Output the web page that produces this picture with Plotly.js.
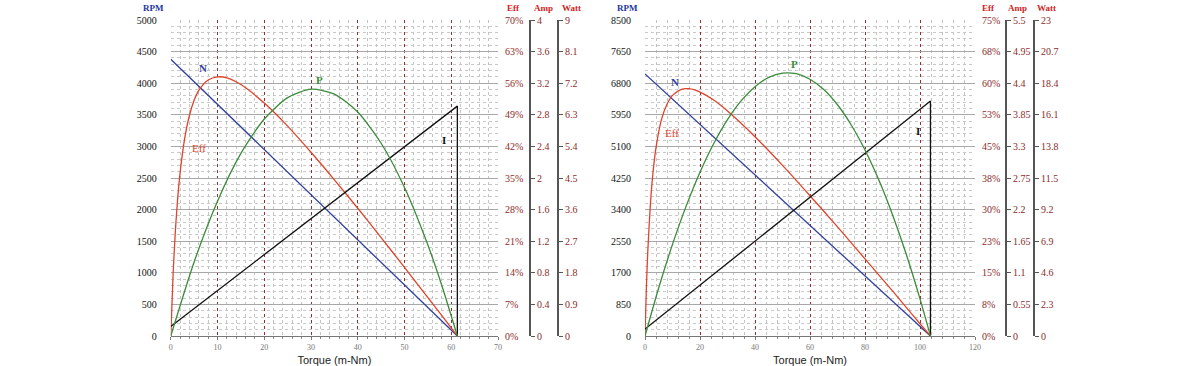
<!DOCTYPE html>
<html>
<head>
<meta charset="utf-8">
<script src="https://cdn.plot.ly/plotly-3.0.1.min.js"></script>
<style>html,body{margin:0;padding:0;background:#fff;}#chart{width:1200px;height:366px;}</style>
</head>
<body>
<div id="chart"></div>
<script>
// ---- Left motor ----
var leftNTorque = [0, 61.3];
var leftN = [4380, 0];
var leftITorque = [0, 61.3, 61.3];
var leftI = [0.12, 2.91, 0];
var leftEffTorque = [0,0.5,1,1.5,2,3,4,5,6,8,10,12,15,20,25,30,35,40,45,50,55,58,61.3];
var leftEff = [0,13.7,23.5,30.7,36.2,43.9,48.9,52.2,54.4,56.7,57.4,57.2,55.7,51.6,46.5,40.7,34.6,28.3,21.8,15.2,8.5,4.5,0];
var leftPTorque = [0,5,10,15,20,25,30,35,40,45,50,55,58,61.3];
var leftP = [0,2.11,3.84,5.20,6.18,6.79,7.03,6.89,6.38,5.49,4.23,2.59,1.43,0];
var leftEffTicks = [0,7,14,21,28,35,42,49,56,63,70];
var leftEffLabels = ["0%","7%","14%","21%","28%","35%","42%","49%","56%","63%","70%"];
var leftAmpTicks = [0,0.4,0.8,1.2,1.6,2,2.4,2.8,3.2,3.6,4];
var leftAmpLabels = ["0","0.4","0.8","1.2","1.6","2","2.4","2.8","3.2","3.6","4"];
var leftWattTicks = [0,0.9,1.8,2.7,3.6,4.5,5.4,6.3,7.2,8.1,9];
var leftWattLabels = ["0","0.9","1.8","2.7","3.6","4.5","5.4","6.3","7.2","8.1","9"];

// ---- Right motor ----
var rightNTorque = [0, 103.8];
var rightN = [7050, 0];
var rightITorque = [0, 103.8, 103.8];
var rightI = [0.12, 4.09, 0];
var rightEffTorque = [0,0.5,1,2,3,4,6,8,10,13,16,20,25,30,40,50,60,70,80,90,95,100,103.8];
var rightEff = [0,11.4,19.9,31.7,39.4,44.7,51.4,55.0,57.1,58.5,58.7,57.9,56.0,53.4,47.3,40.5,33.3,25.9,18.3,10.7,6.8,2.9,0];
var rightPTorque = [0,5,10,15,20,25,30,35,40,45,50,55,60,65,70,75,80,85,90,95,100,103.8];
var rightP = [0,3.51,6.67,9.47,11.92,14.01,15.75,17.13,18.15,18.82,19.13,19.09,18.69,17.94,16.83,15.36,13.54,11.37,8.83,5.95,2.70,0];
var rightEffTicks = [0,7.5,15,22.5,30,37.5,45,52.5,60,67.5,75];
var rightEffLabels = ["0%","8%","15%","23%","30%","38%","45%","53%","60%","68%","75%"];
var rightAmpTicks = [0,0.55,1.1,1.65,2.2,2.75,3.3,3.85,4.4,4.95,5.5];
var rightAmpLabels = ["0","0.55","1.1","1.65","2.2","2.75","3.3","3.85","4.4","4.95","5.5"];
var rightWattTicks = [0,2.3,4.6,6.9,9.2,11.5,13.8,16.1,18.4,20.7,23];
var rightWattLabels = ["0","2.3","4.6","6.9","9.2","11.5","13.8","16.1","18.4","20.7","23"];

var xTitle = "Torque (m-Nm)";

var cN = "#2f3f9e", cE = "#e0432b", cP = "#3a8c3a", cI = "#111111";
var serif = "Liberation Serif";
var lblColor = "#8e2a2a";

function tr(x, y, xa, ya, color, smooth) {
  var t = {x: x, y: y, xaxis: xa, yaxis: ya, type: "scatter", mode: "lines",
    line: {color: color, width: 1.3}, hoverinfo: "skip", showlegend: false};
  if (smooth) { t.line.shape = "spline"; t.line.smoothing = 0.7; }
  return t;
}

var data = [
  tr(leftNTorque, leftN, "x", "y", cN),
  tr(leftEffTorque, leftEff, "x", "y2", cE, true),
  tr(leftITorque, leftI, "x", "y3", cI),
  tr(leftPTorque, leftP, "x", "y4", cP, true),
  tr(rightNTorque, rightN, "x2", "y5", cN),
  tr(rightEffTorque, rightEff, "x2", "y6", cE, true),
  tr(rightITorque, rightI, "x2", "y7", cI),
  tr(rightPTorque, rightP, "x2", "y8", cP, true)
];

function minorVals(max, step, major) {
  var v = [];
  for (var i = 1; i * step < max; i++) { if (i % major !== 0) v.push(i * step); }
  return v;
}

function xax(domain, range, dtick, minor, anchor) {
  return {domain: domain, range: range, dtick: dtick, anchor: anchor,
    showgrid: true, gridcolor: "#9a2c2c", gridwidth: 1, griddash: "dot", zeroline: false,
    showline: true, linecolor: "#777", linewidth: 1, ticks: "outside", ticklen: 3, tickcolor: "#777",
    minor: {tickmode: "array", tickvals: minorVals(range[1], minor, dtick / minor), showgrid: true,
      gridcolor: "#c4c4c4", griddash: "dot", gridwidth: 1, ticks: "outside", ticklen: 2, tickcolor: "#888"},
    tickfont: {family: serif, size: 8, color: "#777"},
    title: {text: xTitle, font: {family: "Liberation Sans", size: 11, color: "#222"}, standoff: 5},
    automargin: false, fixedrange: true};
}
function yRpm(xa, range, dtick, minor) {
  return {anchor: xa, range: range, dtick: dtick, showgrid: true, gridcolor: "#a8a8a8", gridwidth: 1,
    zeroline: false, showline: false, ticks: "outside", ticklen: 11, tickcolor: "rgba(0,0,0,0)",
    minor: {tickmode: "array", tickvals: minorVals(range[1], minor, dtick / minor), showgrid: true,
      gridcolor: "#c8c8c8", griddash: "dot", gridwidth: 1},
    tickfont: {family: serif, size: 10, color: "#111"}, automargin: false, fixedrange: true};
}
function yEff(xa, over, tv, tt) {
  return {anchor: xa, overlaying: over, side: "right", range: [0, tv[tv.length-1]], tickvals: tv, ticktext: tt,
    showgrid: false, zeroline: false, showline: false, ticks: "outside", ticklen: 4, tickcolor: "rgba(0,0,0,0)",
    tickfont: {family: serif, size: 10, color: lblColor}, automargin: false, fixedrange: true};
}
function yFree(over, pos, tv, tt) {
  return {anchor: "free", overlaying: over, side: "right", position: pos, range: [0, tv[tv.length-1]],
    tickvals: tv, ticktext: tt, showgrid: false, zeroline: false, showline: true, linecolor: "#555", linewidth: 2,
    ticks: "outside", ticklen: 4, tickcolor: "#555", tickwidth: 1,
    tickfont: {family: serif, size: 10, color: lblColor}, automargin: false, fixedrange: true};
}

var headY = (336 - 8) / 316;
function ann(text, x, y, xref, yref, color, size, bold) {
  return {text: bold ? "<b>" + text + "</b>" : text, x: x, y: y, xref: xref, yref: yref, showarrow: false,
    xanchor: "center", yanchor: "middle", font: {family: serif, size: size, color: color}};
}

var layout = {
  width: 1200, height: 366,
  margin: {l: 0, r: 0, t: 20, b: 30},
  paper_bgcolor: "#fff", plot_bgcolor: "#fff",
  showlegend: false,
  xaxis: xax([0.1423, 0.415], [0, 70], 10, 2, "y"),
  xaxis2: xax([0.5375, 0.8125], [0, 120], 20, 4, "y5"),
  yaxis: yRpm("x", [0, 5000], 500, 100),
  yaxis2: yEff("x", "y", leftEffTicks, leftEffLabels),
  yaxis3: yFree("y", 0.4417, leftAmpTicks, leftAmpLabels),
  yaxis4: yFree("y", 0.465, leftWattTicks, leftWattLabels),
  yaxis5: yRpm("x2", [0, 8500], 850, 170),
  yaxis6: yEff("x2", "y5", rightEffTicks, rightEffLabels),
  yaxis7: yFree("y5", 0.8383, rightAmpTicks, rightAmpLabels),
  yaxis8: yFree("y5", 0.8617, rightWattTicks, rightWattLabels),
  annotations: [
    ann("RPM", 153/1200, headY, "paper", "paper", "#2536a0", 9, true),
    ann("Eff", 513/1200, headY, "paper", "paper", "#d0241c", 9, true),
    ann("Amp", 543/1200, headY, "paper", "paper", "#d0241c", 9, true),
    ann("Watt", 571/1200, headY, "paper", "paper", "#d0241c", 9, true),
    ann("RPM", 627/1200, headY, "paper", "paper", "#2536a0", 9, true),
    ann("Eff", 988/1200, headY, "paper", "paper", "#d0241c", 9, true),
    ann("Amp", 1017/1200, headY, "paper", "paper", "#d0241c", 9, true),
    ann("Watt", 1046/1200, headY, "paper", "paper", "#d0241c", 9, true),
    ann("N", 6.9, 4241, "x", "y", cN, 11, true),
    ann("Eff", 6.1, 2975, "x", "y", cE, 11, false),
    ann("P", 31.9, 4051, "x", "y", cP, 11, true),
    ann("I", 58.5, 3101, "x", "y", cI, 11, true),
    ann("N", 10.9, 6832, "x2", "y5", cN, 11, true),
    ann("Eff", 9.8, 5460, "x2", "y5", cE, 11, false),
    ann("P", 54.5, 7316, "x2", "y5", cP, 11, true),
    ann("I", 99.3, 5514, "x2", "y5", cI, 11, true)
  ]
};

Plotly.newPlot("chart", data, layout, {staticPlot: true, displayModeBar: false});
</script>
</body>
</html>
